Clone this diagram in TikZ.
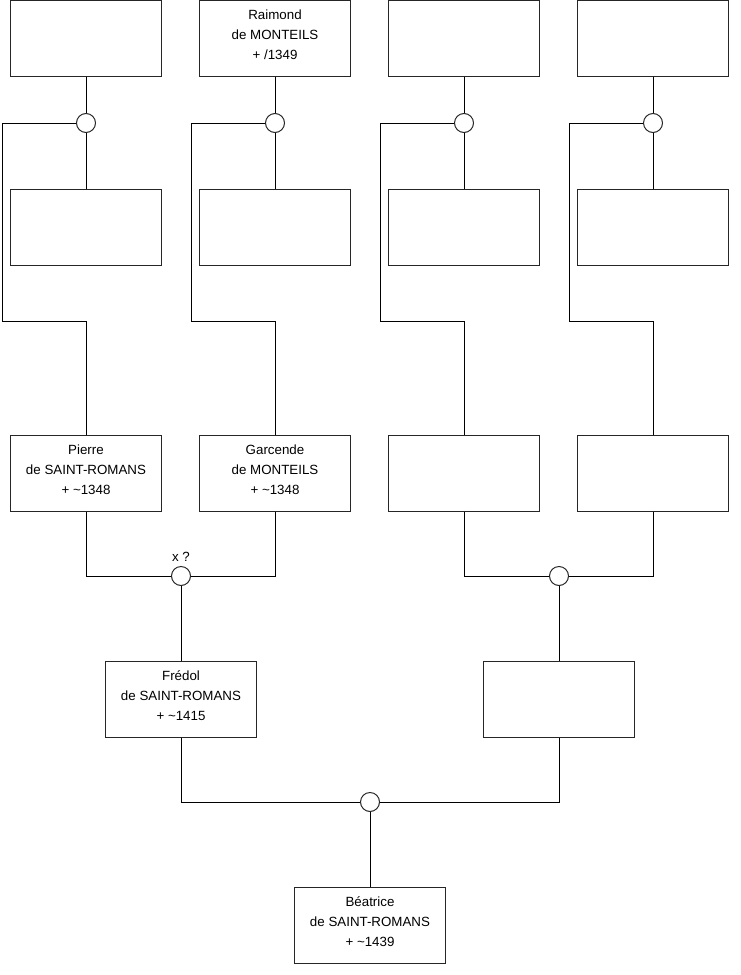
\documentclass[tikz,border=0pt]{standalone}
\usepackage{fontspec}
\setmainfont{Liberation Sans}
\newcommand\ptext[1]{\raisebox{2.25pt}[\height][\depth]{\begin{tabular}{@{}c@{}}#1\end{tabular}}}
\begin{document}
\begin{tikzpicture}[x=0.75pt,y=-0.75pt,
  person/.style={draw=black!85, line width=0.75pt, fill=white, rectangle, minimum width=113.25pt, minimum height=57pt, inner sep=0pt, font=\fontsize{10pt}{15pt}\selectfont},
  union/.style={draw=black!85, line width=0.75pt, fill=white, circle, minimum size=14.25pt, inner sep=0pt},
  link/.style={draw=black, line width=0.75pt},
  lbl/.style={font=\fontsize{10pt}{12pt}\selectfont, inner sep=0pt}]
\useasboundingbox (0,0) rectangle (740,975);
% row 1
\node[person] (t1) at (86,38.5) {};
\node[person] (t2) at (275,38.5) {\ptext{Raimond\\de MONTEILS\\+ /1349}};
\node[person] (t3) at (464,38.5) {};
\node[person] (t4) at (653,38.5) {};
% unions row 1
\node[union] (c1) at (86,123) {};
\node[union] (c2) at (275,123) {};
\node[union] (c3) at (464,123) {};
\node[union] (c4) at (653,123) {};
% row 2
\node[person] (m1) at (86,227) {};
\node[person] (m2) at (275,227) {};
\node[person] (m3) at (464,227) {};
\node[person] (m4) at (653,227) {};
% knees
\coordinate (k1) at (2,321);
\coordinate (k2) at (191,321);
\coordinate (k3) at (380,321);
\coordinate (k4) at (569,321);
% row 3
\node[person] (p1) at (86,473) {\ptext{Pierre\\de SAINT-ROMANS\\+ \textasciitilde1348}};
\node[person] (p2) at (275,473) {\ptext{Garcende\\de MONTEILS\\+ \textasciitilde1348}};
\node[person] (p3) at (464,473) {};
\node[person] (p4) at (653,473) {};
% unions row 3
\node[union] (x1) at (181,576) {};
\node[union] (x2) at (559,576) {};
\node[lbl] (xl) at (181,557) {x ?};
% row 4
\node[person] (f) at (181,699) {\ptext{Frédol\\de SAINT-ROMANS\\+ \textasciitilde1415}};
\node[person] (r) at (559,699) {};
% bottom
\node[union] (x3) at (370,802) {};
\node[person] (b) at (370,925) {\ptext{Béatrice\\de SAINT-ROMANS\\+ \textasciitilde1439}};
% connectors
\foreach \i in {1,2,3,4}{
  \draw[link] (t\i.south) -- (c\i.north);
  \draw[link] (c\i.south) -- (m\i.north);
  \draw[link] (c\i.west) -| (k\i) -| (p\i.north);
}
\draw[link] (p1.south) |- (x1.west);
\draw[link] (p2.south) |- (x1.east);
\draw[link] (x1.south) -- (f.north);
\draw[link] (p3.south) |- (x2.west);
\draw[link] (p4.south) |- (x2.east);
\draw[link] (x2.south) -- (r.north);
\draw[link] (f.south) |- (x3.west);
\draw[link] (r.south) |- (x3.east);
\draw[link] (x3.south) -- (b.north);
\end{tikzpicture}
\end{document}
